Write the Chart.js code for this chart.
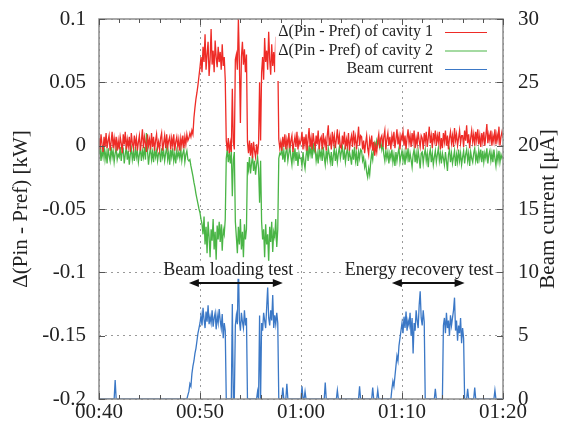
<!DOCTYPE html>
<html>
<head>
<meta charset="utf-8">
<script src="https://cdn.jsdelivr.net/npm/chart.js@4.4.1/dist/chart.umd.min.js"></script>
<style>
  html, body { margin: 0; padding: 0; background: #fff; }
</style>
</head>
<body>
<canvas id="chart" width="566" height="428"></canvas>
<script>
// one reading every 0.1 min, 00:40 .. 01:20
var startMin = 40;
var stepMin = 0.1;

var seriesLabels = ['\u0394(Pin - Pref) of cavity 1', '\u0394(Pin - Pref) of cavity 2', 'Beam current'];

// kW, cavity 1
var cavity1 = [
  0.006, -0.003, 0.009, 0.001, -0.005, 0.007, -0.001, 0.010, -0.002, 0.004, 0.008, -0.004, 0.003, 0.011, -0.002, 0.006, -0.001, 0.007, -0.004, 0.004,
  -0.003, 0.007, 0.002, -0.006, 0.009, 0.001, 0.011, -0.003, 0.005, -0.001, 0.007, -0.005, 0.010, 0.002, -0.002, 0.008, 0.000, 0.006, -0.004, 0.003,
  0.008, -0.004, 0.004, 0.013, -0.002, 0.007, 0.002, -0.005, 0.009, 0.000, 0.005, -0.003, 0.010, -0.001, 0.007, -0.004, 0.004, 0.009, -0.002, 0.003,
  -0.003, 0.006, 0.010, -0.004, 0.002, 0.008, -0.002, 0.009, -0.001, 0.004, 0.007, -0.003, 0.006, 0.000, 0.009, -0.004, 0.003, 0.007, -0.001, 0.005,
  -0.004, 0.006, 0.000, 0.008, -0.002, 0.007, 0.001, 0.009, 0.004, 0.006, 0.010, 0.007, 0.012, 0.009, 0.022, 0.030, 0.037, 0.042, 0.048, 0.055,
  0.062, 0.070, 0.058, 0.078, 0.066, 0.088, 0.060, 0.072, 0.082, 0.055, 0.068, 0.092, 0.064, 0.075, 0.058, 0.083, 0.070, 0.062, 0.078, 0.066,
  0.074, 0.060, 0.080, 0.063, 0.070, 0.052, 0.004, -0.004, 0.006, -0.006, 0.002, -0.005, 0.045, 0.003, -0.003, 0.068, 0.072, 0.060, 0.100, 0.066,
  0.018, 0.070, 0.082, 0.064, 0.076, 0.058, 0.072, 0.003, -0.006, 0.004, -0.008, 0.002, -0.010, 0.003, -0.004, -0.009, 0.001, -0.007, 0.002, 0.050,
  0.004, 0.058, 0.070, 0.052, 0.085, 0.066, 0.075, 0.060, 0.090, 0.068, 0.056, 0.080, 0.063, 0.074, 0.058, 0.086, 0.066, 0.071, 0.005, -0.002,
  0.003, -0.004, 0.007, -0.001, 0.009, -0.003, 0.005, 0.000, 0.010, -0.002, 0.004, 0.008, -0.005, 0.002, 0.007, -0.001, 0.011, -0.003, 0.005, 0.001,
  0.004, 0.011, -0.003, 0.007, 0.000, 0.009, -0.004, 0.005, 0.014, -0.001, 0.006, -0.003, 0.010, 0.003, -0.002, 0.008, 0.001, 0.012, -0.003, 0.005,
  0.007, -0.003, 0.010, 0.001, 0.005, -0.004, 0.008, 0.016, 0.000, 0.006, -0.003, 0.011, 0.002, 0.008, -0.002, 0.005, 0.013, 0.001, 0.008, -0.001,
  -0.002, 0.008, 0.001, 0.011, -0.003, 0.005, 0.000, 0.010, -0.004, 0.004, 0.008, -0.001, 0.012, 0.002, 0.007, -0.003, 0.005, 0.015, 0.000, 0.008,
  0.007, -0.003, 0.004, -0.006, 0.002, 0.008, -0.002, -0.007, 0.005, 0.000, 0.008, -0.004, 0.003, -0.008, 0.000, -0.005, 0.004, 0.009, -0.002, 0.006,
  0.008, -0.001, 0.007, 0.012, -0.003, 0.005, 0.010, 0.000, 0.007, -0.003, 0.008, 0.003, 0.011, -0.002, 0.005, 0.013, 0.001, 0.007, -0.003, 0.008,
  0.005, 0.011, 0.000, 0.008, -0.003, 0.006, 0.013, 0.002, 0.008, -0.001, 0.010, 0.003, 0.012, -0.002, 0.006, 0.001, 0.011, 0.004, -0.001, 0.008,
  0.006, -0.003, 0.010, 0.003, 0.011, -0.001, 0.006, 0.015, 0.002, 0.008, -0.002, 0.010, 0.004, 0.012, 0.000, 0.008, 0.003, 0.011, -0.003, 0.006,
  -0.002, 0.010, 0.003, 0.012, 0.000, 0.008, -0.003, 0.006, 0.011, 0.002, 0.008, -0.001, 0.014, 0.004, 0.009, 0.000, 0.006, 0.012, 0.002, 0.008,
  0.008, -0.001, 0.012, 0.004, 0.016, 0.002, 0.009, -0.002, 0.006, 0.012, 0.003, 0.009, 0.000, 0.011, 0.004, 0.013, 0.001, 0.008, -0.001, 0.010,
  0.003, 0.011, 0.000, 0.008, 0.017, 0.002, 0.009, 0.004, 0.012, 0.000, 0.008, 0.003, 0.013, 0.001, 0.009, 0.004, 0.015, 0.000, 0.007, 0.011,
  0.006
];

// kW, cavity 2
var cavity2 = [
  -0.007, -0.001, -0.012, -0.004, -0.009, 0.000, -0.011, -0.005, -0.014, -0.002, -0.008, -0.012, -0.001, -0.009, -0.004, -0.013, -0.006, -0.002, -0.011, -0.007,
  -0.009, -0.001, -0.012, -0.005, -0.003, -0.014, -0.007, -0.001, -0.011, -0.004, -0.015, -0.007, -0.002, -0.011, -0.005, -0.012, -0.001, -0.009, -0.004, -0.013,
  -0.007, -0.002, -0.012, -0.004, -0.009, -0.001, -0.011, 0.010, -0.004, -0.015, -0.007, -0.001, -0.011, -0.005, -0.013, -0.002, -0.009, -0.004, -0.012, -0.006,
  -0.005, -0.013, -0.002, -0.009, -0.004, -0.012, -0.006, -0.001, -0.011, -0.005, -0.015, -0.003, -0.009, -0.002, -0.012, -0.006, -0.014, -0.004, -0.009, -0.005,
  -0.010, -0.003, -0.012, -0.006, -0.003, -0.013, -0.007, -0.004, -0.011, -0.012, -0.011, -0.016, -0.020, -0.024, -0.029, -0.033, -0.038, -0.042, -0.046, -0.050,
  -0.053, -0.058, -0.062, -0.070, -0.056, -0.078, -0.064, -0.085, -0.060, -0.072, -0.088, -0.066, -0.075, -0.058, -0.082, -0.068, -0.090, -0.063, -0.074, -0.060,
  -0.076, -0.062, -0.083, -0.066, -0.070, -0.058, -0.010, -0.003, -0.013, -0.006, -0.014, -0.004, -0.040, -0.011, -0.005, -0.060, -0.072, -0.085, -0.064, -0.078,
  -0.058, -0.082, -0.068, -0.088, -0.062, -0.074, -0.066, -0.013, -0.019, -0.009, -0.022, -0.014, -0.008, -0.020, -0.012, -0.023, -0.015, -0.009, -0.018, -0.045,
  -0.012, -0.060, -0.074, -0.066, -0.088, -0.062, -0.078, -0.070, -0.092, -0.064, -0.076, -0.060, -0.084, -0.068, -0.072, -0.058, -0.080, -0.066, -0.010, -0.006,
  -0.007, -0.001, -0.011, -0.004, -0.013, -0.005, -0.002, -0.012, -0.006, -0.001, -0.009, -0.015, -0.004, -0.011, -0.002, -0.012, -0.005, -0.016, -0.006, -0.010,
  -0.010, -0.016, -0.005, -0.013, -0.018, -0.008, -0.002, -0.012, 0.000, -0.007, -0.001, -0.010, 0.002, -0.005, -0.002, -0.012, -0.006, -0.014, -0.003, -0.009,
  -0.004, -0.012, -0.001, -0.009, -0.015, -0.004, -0.011, -0.002, -0.007, -0.013, -0.005, -0.016, -0.008, -0.002, -0.012, -0.005, -0.013, -0.006, -0.001, -0.010,
  -0.005, -0.001, -0.011, -0.004, -0.013, -0.006, -0.002, -0.012, -0.005, -0.009, -0.015, -0.003, -0.011, -0.001, -0.012, -0.006, -0.016, -0.005, -0.010, -0.003,
  -0.004, -0.012, -0.009, -0.017, -0.013, -0.021, -0.025, -0.018, -0.023, -0.013, -0.006, -0.011, -0.002, 0.002, -0.002, 0.004, 0.000, 0.005, -0.001, 0.003,
  -0.003, 0.002, -0.007, -0.012, -0.004, -0.010, -0.005, -0.014, -0.006, -0.010, -0.003, -0.013, -0.007, -0.016, -0.005, -0.012, -0.006, -0.002, -0.013, -0.008,
  -0.004, -0.012, -0.006, -0.015, -0.005, -0.010, -0.002, -0.013, -0.006, -0.011, -0.017, -0.007, -0.003, -0.013, -0.006, -0.014, -0.004, -0.010, -0.018, -0.006,
  -0.005, -0.014, -0.007, -0.003, -0.012, -0.006, -0.017, -0.007, -0.003, -0.013, -0.006, -0.015, -0.009, -0.004, -0.013, -0.007, -0.002, -0.012, -0.006, -0.014,
  -0.006, -0.010, -0.015, -0.005, -0.012, -0.020, -0.007, -0.003, -0.013, -0.006, -0.014, -0.009, -0.004, -0.016, -0.007, -0.013, -0.003, -0.012, -0.006, -0.015,
  -0.009, -0.004, -0.014, -0.007, -0.003, -0.012, -0.006, -0.016, -0.005, -0.010, -0.013, -0.006, -0.002, -0.012, -0.007, -0.014, -0.004, -0.010, -0.003, -0.013,
  -0.004, -0.013, -0.006, -0.010, -0.002, -0.014, -0.007, -0.004, -0.012, -0.006, -0.013, -0.003, -0.010, -0.016, -0.006, -0.012, -0.004, -0.013, -0.007, -0.010,
  -0.008
];

// uA
var beamCurrent = [
  0, 0, 0, 0, 0, 0, 0, 0, 0, 0, 0, 0, 0, 0, 0, 0, 1.5, 0, 0, 0,
  0, 0, 0, 0, 0, 0, 0, 0, 0, 0, 0, 0, 0, 0, 0, 0, 0, 0, 0, 0,
  0, 0, 0, 0, 0, 0, 0, 0, 0, 0, 0, 0, 0, 0, 0, 0, 0, 0, 0, 0,
  0, 0, 0, 0, 0, 0, 0, 0, 0, 0, 0, 0, 0, 0, 0, 0, 0, 0, 0, 0,
  0, 0, 0, 0, 0, 0, 0, 0, 0.3, 0.6, 1.2, 1.0, 2.0, 2.6, 3.0, 3.6, 4.0, 4.6, 5.2, 5.6,
  6.0, 6.6, 5.8, 7.2, 6.3, 5.6, 6.9, 6.1, 7.4, 5.9, 6.5, 6.0, 7.0, 5.7, 6.4, 6.8, 5.5, 6.6, 6.0, 7.1,
  6.2, 5.6, 6.7, 4.8, 6.0, 5.4, 0, 0, 0, 0, 0, 0, 7.5, 0, 0, 5.8, 6.6, 5.9, 10.8, 6.2,
  5.4, 6.8, 6.1, 5.6, 7.0, 5.8, 6.4, 0, 0, 0, 0, 0, 0, 0, 0, 0, 0, 0.6, 0, 6.6,
  0, 6.0, 5.4, 6.8, 6.2, 5.6, 7.2, 8.8, 6.4, 5.8, 7.0, 6.2, 8.2, 5.6, 6.6, 5.9, 6.8, 6.0, 0, 0,
  0, 0, 0.9, 0, 0, 0, 1.2, 0, 0, 0, 0, 0, 0, 0, 0, 0, 0, 0, 0, 0,
  0, 1.0, 0, 0, 0.6, 0, 0, 0, 0, 0, 0, 0, 0, 0, 0, 0, 0, 0, 0, 0,
  0, 0, 0, 0, 1.3, 0, 0, 0, 0, 0, 0, 0, 0, 0, 0, 0, 0.7, 0, 0, 0,
  0, 0, 0, 0, 0, 0, 0, 0, 0, 0, 0, 0, 0, 0, 0, 0, 0, 0, 1.0, 0,
  0, 0, 0, 0, 0, 0, 0, 0, 0, 0, 0, 0.9, 0, 0, 0, 0, 0.7, 0, 0, 0,
  0, 0, 0, 0, 0, 0, 0, 0, 0, 0, 0.8, 1.4, 1.0, 1.8, 2.6, 3.4, 3.0, 4.2, 4.8, 5.4,
  6.0, 5.2, 6.5, 5.6, 6.9, 5.4, 6.2, 5.8, 6.8, 5.0, 6.4, 3.6, 6.0, 5.4, 7.0, 6.2, 5.6, 7.4, 8.5, 6.4,
  5.8, 7.0, 6.1, 0, 0, 0, 0, 0, 0, 0, 0, 0, 0, 0.8, 0, 0, 0, 0, 0, 0,
  0, 5.8, 6.4, 5.2, 6.8, 5.6, 6.2, 5.0, 6.6, 5.8, 6.4, 7.0, 8.0, 5.4, 6.2, 4.6, 5.8, 5.2, 6.4, 4.4,
  5.6, 4.8, 0, 0, 0, 0.8, 0, 0, 0, 0, 0, 0, 0.9, 0, 0, 0, 0, 0, 0, 0,
  0, 0, 0, 0, 0, 0, 0, 0, 0, 0, 0, 0, 0.7, 0, 0, 0, 0, 0, 0, 0,
  0
];

// test periods (minutes) shown with arrows
var testNames = ['Beam loading test', 'Energy recovery test'];
var testStart = [48.9, 69.0];
var testEnd = [58.2, 76.2];
var testLabelAt = [52.8, 71.7];

var serif = 'Liberation Serif';
var ink = '#222';
var seriesColors = ['#ee2b26', '#4ab546', '#3b78c6'];

function pad2(n) {
    return (n < 10 ? '0' : '') + n;
}

function clockLabel(m) {
    var h = Math.floor(m / 60);
    return pad2(h) + ':' + pad2(Math.round(m - h * 60));
}

function toPoints(values) {
    return values.map(function(v, i) {
        return { x: startMin + i * stepMin, y: v };
    });
}

function drawArrowHead(ctx, x, y, dir) {
    ctx.beginPath();
    ctx.moveTo(x, y);
    ctx.lineTo(x - dir * 10, y - 4);
    ctx.lineTo(x - dir * 10, y + 4);
    ctx.closePath();
    ctx.fill();
}

// vertical scales: no extra room for half-labels, fixed widths
function fixWidth(w) {
    return function(scale) {
        scale.width = w;
        scale.paddingTop = 0;
        scale.paddingBottom = 0;
    };
}

var extrasPlugin = {
    id: 'extras',
    afterDatasetsDraw: function(chart) {
        var ctx = chart.ctx;
        var a = chart.chartArea;
        var xs = chart.scales.x, ys = chart.scales.y1;
        ctx.save();

        // test annotations
        ctx.font = '18px "' + serif + '"';
        ctx.textAlign = 'center';
        ctx.textBaseline = 'middle';
        for (var i = 0; i < testNames.length; i++) {
            var cx = xs.getPixelForValue(testLabelAt[i]);
            var ty = ys.getPixelForValue(10.2);
            var w = ctx.measureText(testNames[i]).width;
            ctx.fillStyle = '#fff';
            ctx.fillRect(cx - w / 2 - 2, ty - 9, w + 4, 18);
            ctx.fillStyle = ink;
            ctx.fillText(testNames[i], cx, ty);

            var x1 = xs.getPixelForValue(testStart[i]);
            var x2 = xs.getPixelForValue(testEnd[i]);
            var ay = ys.getPixelForValue(9.15);
            ctx.strokeStyle = '#111';
            ctx.fillStyle = '#111';
            ctx.lineWidth = 2;
            ctx.beginPath();
            ctx.moveTo(x1 + 4, ay);
            ctx.lineTo(x2 - 4, ay);
            ctx.stroke();
            drawArrowHead(ctx, x1, ay, -1);
            drawArrowHead(ctx, x2, ay, 1);
        }

        // legend, text right-aligned with line sample after it
        ctx.font = '16px "' + serif + '"';
        ctx.textAlign = 'right';
        var textRight = a.right - 70;
        var maxW = 0;
        chart.data.datasets.forEach(function(ds) {
            maxW = Math.max(maxW, ctx.measureText(ds.label).width);
        });
        ctx.fillStyle = '#fff';
        ctx.fillRect(textRight - maxW - 3, a.top + 1, a.right - 1 - (textRight - maxW - 3), 61);
        chart.data.datasets.forEach(function(ds, k) {
            var ry = a.top + 13 + k * 18.5;
            ctx.fillStyle = ink;
            ctx.fillText(ds.label, textRight, ry);
            ctx.strokeStyle = ds.borderColor;
            ctx.lineWidth = 1.2;
            ctx.beginPath();
            ctx.moveTo(a.right - 58, ry + 0.5);
            ctx.lineTo(a.right - 16, ry + 0.5);
            ctx.stroke();
        });

        // frame
        ctx.strokeStyle = '#8c8c8c';
        ctx.lineWidth = 1.5;
        ctx.strokeRect(a.left, a.top, a.right - a.left, a.bottom - a.top);

        // inward tick marks
        ctx.strokeStyle = '#555';
        ctx.lineWidth = 1;
        ctx.beginPath();
        for (var m = xs.min; m <= xs.max; m += 2) {
            var px = Math.round(xs.getPixelForValue(m)) + 0.5;
            var len = (m % 10 === 0) ? 6 : 4;
            ctx.moveTo(px, a.bottom);
            ctx.lineTo(px, a.bottom - len);
            ctx.moveTo(px, a.top);
            ctx.lineTo(px, a.top + len);
        }
        chart.scales.y.ticks.forEach(function(t) {
            var py = Math.round(chart.scales.y.getPixelForValue(t.value)) + 0.5;
            ctx.moveTo(a.left, py);
            ctx.lineTo(a.left + 6, py);
        });
        ys.ticks.forEach(function(t) {
            var py = Math.round(ys.getPixelForValue(t.value)) + 0.5;
            ctx.moveTo(a.right, py);
            ctx.lineTo(a.right - 6, py);
        });
        ctx.stroke();

        // right axis title, reading bottom to top
        ctx.translate(ys.right - 18, (a.top + a.bottom) / 2);
        ctx.rotate(-Math.PI / 2);
        ctx.font = '21px "' + serif + '"';
        ctx.textAlign = 'center';
        ctx.textBaseline = 'middle';
        ctx.fillStyle = ink;
        ctx.fillText('Beam current [\u03bcA]', 0, 0);
        ctx.restore();
    }
};

var tickFont = { family: serif, size: 21 };
var gridDotted = { color: '#999', lineWidth: 1, drawTicks: false };

var ctx = document.getElementById('chart').getContext('2d');
var chart = new Chart(ctx, {
    type: 'line',
    data: {
        datasets: [
            { label: seriesLabels[0], data: toPoints(cavity1), borderColor: seriesColors[0], yAxisID: 'y' },
            { label: seriesLabels[1], data: toPoints(cavity2), borderColor: seriesColors[1], yAxisID: 'y' },
            { label: seriesLabels[2], data: toPoints(beamCurrent), borderColor: seriesColors[2], yAxisID: 'y1' }
        ]
    },
    options: {
        responsive: false,
        animation: false,
        devicePixelRatio: 1,
        datasets: {
            line: { borderWidth: 1.3, pointRadius: 0, tension: 0 }
        },
        layout: { padding: { top: 19, left: 0, right: 0, bottom: 0 } },
        plugins: {
            legend: { display: false },
            tooltip: { enabled: false }
        },
        scales: {
            x: {
                type: 'linear',
                min: 40,
                max: 80,
                ticks: {
                    stepSize: 10,
                    maxRotation: 0,
                    padding: 1,
                    color: ink,
                    font: tickFont,
                    callback: function(value) { return clockLabel(value); }
                },
                grid: gridDotted,
                border: { display: false, dash: [2, 4] },
                afterFit: function(scale) { scale.height = 29; }
            },
            y: {
                position: 'left',
                min: -0.2,
                max: 0.1,
                ticks: {
                    stepSize: 0.05,
                    padding: 13,
                    color: ink,
                    font: tickFont,
                    callback: function(value) { return String(Number(value.toFixed(2))); }
                },
                title: {
                    display: true,
                    text: '\u0394(Pin - Pref) [kW]',
                    color: ink,
                    font: tickFont,
                    padding: { top: 9, bottom: 0 }
                },
                grid: gridDotted,
                border: { display: false, dash: [2, 4] },
                afterFit: fixWidth(99)
            },
            y1: {
                position: 'right',
                min: 0,
                max: 30,
                ticks: {
                    stepSize: 5,
                    padding: 15,
                    color: ink,
                    font: tickFont
                },
                grid: { drawOnChartArea: false, drawTicks: false },
                border: { display: false },
                afterFit: fixWidth(63)
            }
        }
    },
    plugins: [extrasPlugin]
});
</script>
</body>
</html>
